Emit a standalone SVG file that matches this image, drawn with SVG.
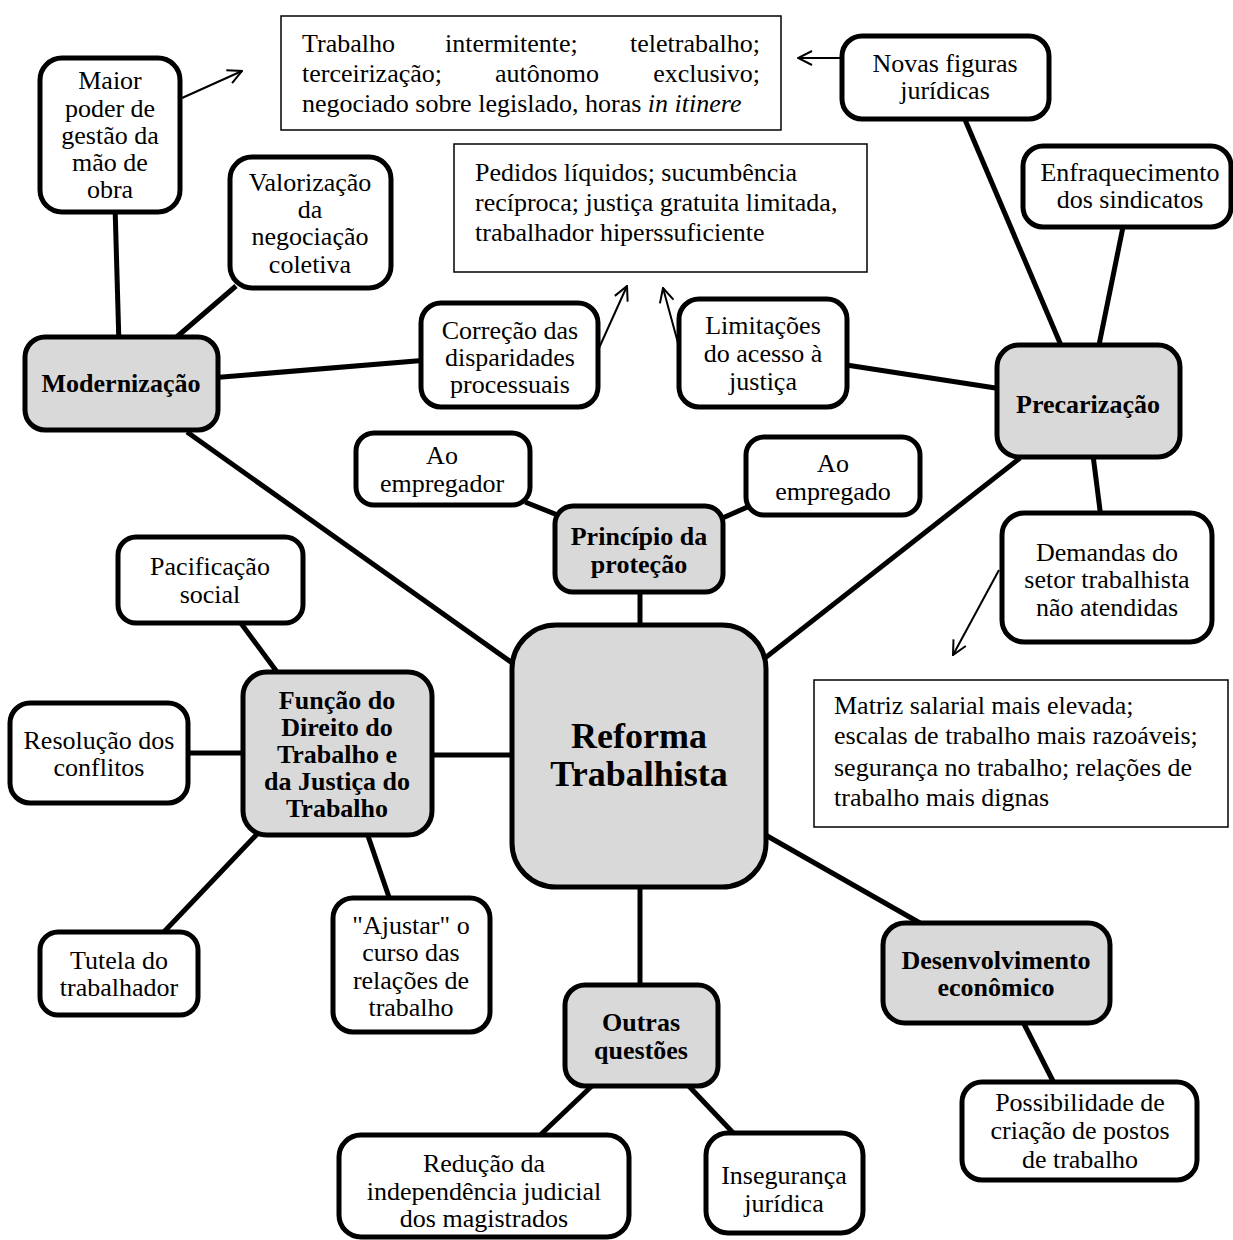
<svg xmlns="http://www.w3.org/2000/svg" width="1233" height="1240" viewBox="0 0 1233 1240">
<defs>
<style>
.n rect{fill:#fff;stroke:#000;stroke-width:5}
.h rect{fill:#d9d9d9;stroke:#000;stroke-width:5}
.note rect{fill:#fff;stroke:#000;stroke-width:1.5}
text{font-family:"Liberation Serif","Times New Roman",serif;font-size:26px;fill:#000}
.n text,.h text{text-anchor:middle}
.h text{font-weight:bold}
.c line{stroke:#000;stroke-width:5;stroke-linecap:butt}
.a line{stroke:#000;stroke-width:2;marker-end:url(#ah)}
</style>
<marker id="ah" viewBox="0 0 16 16" markerWidth="16" markerHeight="16" refX="15" refY="8" orient="auto" markerUnits="userSpaceOnUse">
<path d="M1,1 L15,8 L1,15" fill="none" stroke="#000" stroke-width="2"/>
</marker>
</defs>
<rect width="1233" height="1240" fill="#fff"/>
<g id="connectors" class="c">
<line x1="115" y1="205" x2="119" y2="345"/>
<line x1="236" y1="286" x2="172" y2="341"/>
<line x1="210" y1="378" x2="428" y2="360"/>
<line x1="963" y1="115" x2="1063" y2="350"/>
<line x1="1124" y1="222" x2="1098" y2="350"/>
<line x1="840" y1="364" x2="1002" y2="389"/>
<line x1="187" y1="432" x2="518" y2="667"/>
<line x1="1020" y1="458" x2="760" y2="662"/>
<line x1="1093" y1="455" x2="1101" y2="518"/>
<line x1="525" y1="502" x2="560" y2="516"/>
<line x1="752" y1="505" x2="718" y2="520"/>
<line x1="640" y1="588" x2="640" y2="630"/>
<line x1="425" y1="755" x2="518" y2="755"/>
<line x1="240" y1="622" x2="280" y2="676"/>
<line x1="183" y1="753" x2="248" y2="753"/>
<line x1="260" y1="831" x2="160" y2="936"/>
<line x1="366" y1="830" x2="391" y2="903"/>
<line x1="762" y1="833" x2="920" y2="923"/>
<line x1="640" y1="880" x2="640" y2="990"/>
<line x1="1021" y1="1018" x2="1056" y2="1087"/>
<line x1="595" y1="1083" x2="535" y2="1140"/>
<line x1="684" y1="1081" x2="738" y2="1138"/>
</g>
<g id="arrows" class="a">
<line x1="182" y1="98" x2="242" y2="71"/>
<line x1="842" y1="58" x2="798" y2="58"/>
<line x1="599" y1="348" x2="627" y2="286"/>
<line x1="678" y1="343" x2="663" y2="288"/>
<line x1="999" y1="570" x2="953" y2="655"/>
</g>
<g id="note-novas-figuras" class="note">
<rect x="281" y="16" width="500" height="114"/>
<text x="302" y="52">Trabalho</text>
<text x="445" y="52">intermitente;</text>
<text x="760" y="52" text-anchor="end">teletrabalho;</text>
<text x="302" y="82">terceirização;</text>
<text x="495" y="82">autônomo</text>
<text x="760" y="82" text-anchor="end">exclusivo;</text>
<text x="302" y="112">negociado sobre legislado, horas <tspan font-style="italic">in itinere</tspan></text>
</g>
<g id="note-pedidos" class="note">
<rect x="454" y="144" width="413" height="128"/>
<text x="475" y="181">Pedidos líquidos; sucumbência</text>
<text x="475" y="211">recíproca; justiça gratuita limitada,</text>
<text x="475" y="241">trabalhador hiperssuficiente</text>
</g>
<g id="note-matriz" class="note">
<rect x="814" y="680" width="414" height="147"/>
<text x="834" y="714">Matriz salarial mais elevada;</text>
<text x="834" y="744">escalas de trabalho mais razoáveis;</text>
<text x="834" y="776">segurança no trabalho; relações de</text>
<text x="834" y="806">trabalho mais dignas</text>
</g>
<g id="maior-poder" class="n">
<rect x="40" y="58" width="140" height="154" rx="22"/>
<text x="110" y="89">Maior</text>
<text x="110" y="117">poder de</text>
<text x="110" y="144">gestão da</text>
<text x="110" y="171">mão de</text>
<text x="110" y="198">obra</text>
</g>
<g id="valorizacao" class="n">
<rect x="230" y="157" width="161" height="131" rx="22"/>
<text x="310" y="191">Valorização</text>
<text x="310" y="218">da</text>
<text x="310" y="245">negociação</text>
<text x="310" y="273">coletiva</text>
</g>
<g id="novas-figuras" class="n">
<rect x="842" y="36" width="207" height="83" rx="20"/>
<text x="945" y="72">Novas figuras</text>
<text x="945" y="99">jurídicas</text>
</g>
<g id="enfraquecimento" class="n">
<rect x="1023" y="146" width="208" height="81" rx="20"/>
<text x="1130" y="181">Enfraquecimento</text>
<text x="1130" y="208">dos sindicatos</text>
</g>
<g id="modernizacao" class="h">
<rect x="25" y="337" width="193" height="93" rx="20"/>
<text x="121" y="392">Modernização</text>
</g>
<g id="correcao" class="n">
<rect x="421" y="303" width="177" height="104" rx="20"/>
<text x="510" y="339">Correção das</text>
<text x="510" y="366">disparidades</text>
<text x="510" y="393">processuais</text>
</g>
<g id="limitacoes" class="n">
<rect x="679" y="299" width="168" height="108" rx="20"/>
<text x="763" y="334">Limitações</text>
<text x="763" y="362">do acesso à</text>
<text x="763" y="390">justiça</text>
</g>
<g id="precarizacao" class="h">
<rect x="997" y="345" width="183" height="112" rx="22"/>
<text x="1088" y="413">Precarização</text>
</g>
<g id="ao-empregador" class="n">
<rect x="356" y="433" width="174" height="72" rx="18"/>
<text x="442" y="464">Ao</text>
<text x="442" y="492">empregador</text>
</g>
<g id="ao-empregado" class="n">
<rect x="746" y="437" width="174" height="78" rx="18"/>
<text x="833" y="472">Ao</text>
<text x="833" y="500">empregado</text>
</g>
<g id="principio-protecao" class="h">
<rect x="555" y="506" width="168" height="86" rx="18"/>
<text x="639" y="545">Princípio da</text>
<text x="639" y="573">proteção</text>
</g>
<g id="demandas" class="n">
<rect x="1002" y="513" width="210" height="129" rx="22"/>
<text x="1107" y="561">Demandas do</text>
<text x="1107" y="588">setor trabalhista</text>
<text x="1107" y="616">não atendidas</text>
</g>
<g id="pacificacao" class="n">
<rect x="118" y="537" width="185" height="86" rx="18"/>
<text x="210" y="575">Pacificação</text>
<text x="210" y="603">social</text>
</g>
<g id="funcao" class="h">
<rect x="243" y="672" width="189" height="163" rx="24"/>
<text x="337" y="709">Função do</text>
<text x="337" y="736">Direito do</text>
<text x="337" y="763">Trabalho e</text>
<text x="337" y="790">da Justiça do</text>
<text x="337" y="817">Trabalho</text>
</g>
<g id="resolucao" class="n">
<rect x="10" y="703" width="178" height="100" rx="20"/>
<text x="99" y="749">Resolução dos</text>
<text x="99" y="776">conflitos</text>
</g>
<g id="reforma" class="h">
<rect x="512" y="625" width="254" height="262" rx="44"/>
<text x="639" y="748" style="font-size:36px">Reforma</text>
<text x="639" y="786" style="font-size:36px">Trabalhista</text>
</g>
<g id="tutela" class="n">
<rect x="40" y="932" width="158" height="83" rx="18"/>
<text x="119" y="969">Tutela do</text>
<text x="119" y="996">trabalhador</text>
</g>
<g id="ajustar" class="n">
<rect x="333" y="898" width="157" height="134" rx="20"/>
<text x="411" y="934">"Ajustar" o</text>
<text x="411" y="961">curso das</text>
<text x="411" y="989">relações de</text>
<text x="411" y="1016">trabalho</text>
</g>
<g id="desenvolvimento" class="h">
<rect x="883" y="923" width="227" height="100" rx="22"/>
<text x="996" y="969">Desenvolvimento</text>
<text x="996" y="996">econômico</text>
</g>
<g id="outras-questoes" class="h">
<rect x="565" y="985" width="153" height="101" rx="20"/>
<text x="641" y="1031">Outras</text>
<text x="641" y="1059">questões</text>
</g>
<g id="possibilidade" class="n">
<rect x="962" y="1082" width="235" height="98" rx="20"/>
<text x="1080" y="1111">Possibilidade de</text>
<text x="1080" y="1139">criação de postos</text>
<text x="1080" y="1168">de trabalho</text>
</g>
<g id="reducao" class="n">
<rect x="339" y="1135" width="290" height="102" rx="22"/>
<text x="484" y="1172">Redução da</text>
<text x="484" y="1200">independência judicial</text>
<text x="484" y="1227">dos magistrados</text>
</g>
<g id="inseguranca" class="n">
<rect x="706" y="1133" width="157" height="100" rx="22"/>
<text x="784" y="1184">Insegurança</text>
<text x="784" y="1212">jurídica</text>
</g>
</svg>
